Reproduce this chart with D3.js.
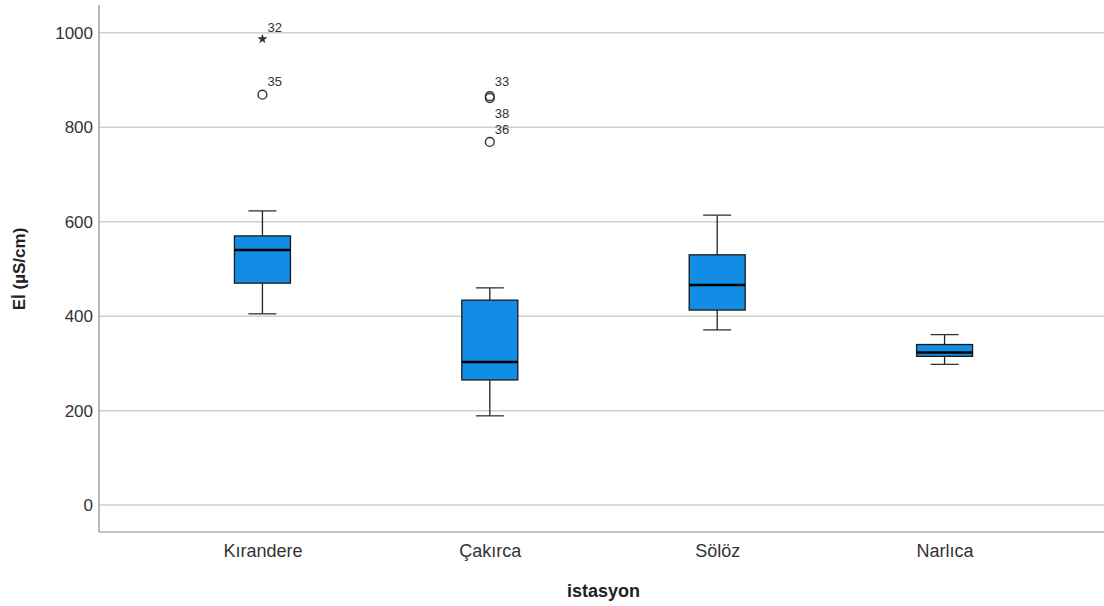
<!DOCTYPE html>
<html>
<head>
<meta charset="utf-8">
<script src="https://cdn.jsdelivr.net/npm/d3@7"></script>
<style>
  body { margin: 0; background: #fff; }
  text { font-family: "Liberation Sans", Arial, sans-serif; }
</style>
</head>
<body>
<div id="chart"></div>
<script>
/* DATA */
const stations = ["Kırandere", "Çakırca", "Sölöz", "Narlıca"];
const whiskerLow = [405, 189, 371, 298];
const q1 = [470, 265, 413, 315];
const median = [540, 303, 466, 323];
const q3 = [570, 434, 530, 340];
const whiskerHigh = [623, 460, 614, 361];
// outliers: station, value, case label, type, label offset
const outliers = [
  { st: "Kırandere", v: 987, id: "32", kind: "extreme", dy: -12 },
  { st: "Kırandere", v: 869, id: "35", kind: "outlier", dy: -13 },
  { st: "Çakırca", v: 866, id: "33", kind: "outlier", dy: -15 },
  { st: "Çakırca", v: 862, id: "38", kind: "outlier", dy: 15 },
  { st: "Çakırca", v: 769, id: "36", kind: "outlier", dy: -13 }
];
const yTicks = [0, 200, 400, 600, 800, 1000];

const width = 1104, height = 606;
const margin = { top: 5, right: 0, bottom: 74, left: 99 };

const svg = d3.select("#chart").append("svg")
  .attr("width", width)
  .attr("height", height);

const xScale = d3.scalePoint()
  .domain(stations)
  .range([margin.left + 2, width + 2])
  .padding(0.71);

const yScale = d3.scaleLinear()
  .domain([-57, 1059])
  .range([height - margin.bottom, margin.top]);

const boxW = 56, capW = 28;

// gridlines
svg.append("g")
  .selectAll("line")
  .data(yTicks)
  .join("line")
  .attr("x1", margin.left)
  .attr("x2", width)
  .attr("y1", d => yScale(d))
  .attr("y2", d => yScale(d))
  .attr("stroke", "#cfcfcf")
  .attr("stroke-width", 1.5);

// y axis
const yAxis = d3.axisLeft(yScale).tickValues(yTicks).tickFormat(d3.format("d")).tickSize(0).tickPadding(6);
svg.append("g")
  .attr("transform", `translate(${margin.left},0)`)
  .call(yAxis)
  .call(g => g.select(".domain").remove())
  .selectAll("text")
  .style("font-size", "17px")
  .attr("fill", "#333");

// x axis
const xAxis = d3.axisBottom(xScale).tickSize(0).tickPadding(12);
svg.append("g")
  .attr("transform", `translate(0,${height - margin.bottom})`)
  .call(xAxis)
  .call(g => g.select(".domain").remove())
  .selectAll("text")
  .style("font-size", "18px")
  .attr("fill", "#333");

// axis frame lines
svg.append("line")
  .attr("x1", margin.left).attr("x2", margin.left)
  .attr("y1", margin.top).attr("y2", height - margin.bottom)
  .attr("stroke", "#888").attr("stroke-width", 1.2);
svg.append("line")
  .attr("x1", margin.left).attr("x2", width)
  .attr("y1", height - margin.bottom).attr("y2", height - margin.bottom)
  .attr("stroke", "#888").attr("stroke-width", 1.2);

// boxes
const boxes = svg.append("g")
  .selectAll("g")
  .data(stations.map((s, i) => ({
    st: s, lo: whiskerLow[i], q1: q1[i], med: median[i], q3: q3[i], hi: whiskerHigh[i]
  })))
  .join("g");

boxes.append("line")
  .attr("x1", d => xScale(d.st)).attr("x2", d => xScale(d.st))
  .attr("y1", d => yScale(d.hi)).attr("y2", d => yScale(d.lo))
  .attr("stroke", "#222").attr("stroke-width", 1.3);

boxes.selectAll(".cap")
  .data(d => [{ st: d.st, v: d.hi }, { st: d.st, v: d.lo }])
  .join("line")
  .attr("class", "cap")
  .attr("x1", d => xScale(d.st) - capW / 2).attr("x2", d => xScale(d.st) + capW / 2)
  .attr("y1", d => yScale(d.v)).attr("y2", d => yScale(d.v))
  .attr("stroke", "#333").attr("stroke-width", 1.3);

boxes.append("rect")
  .attr("x", d => xScale(d.st) - boxW / 2)
  .attr("width", boxW)
  .attr("y", d => yScale(d.q3))
  .attr("height", d => yScale(d.q1) - yScale(d.q3))
  .attr("fill", "#118de6")
  .attr("stroke", "#1a1a1a")
  .attr("stroke-width", 1.3);

boxes.append("line")
  .attr("x1", d => xScale(d.st) - boxW / 2).attr("x2", d => xScale(d.st) + boxW / 2)
  .attr("y1", d => yScale(d.med)).attr("y2", d => yScale(d.med))
  .attr("stroke", "#000").attr("stroke-width", 2.5);

// outliers
const pts = svg.append("g")
  .selectAll("g")
  .data(outliers)
  .join("g")
  .attr("transform", d => `translate(${xScale(d.st)},${yScale(d.v)})`);

pts.filter(d => d.kind === "outlier")
  .append("circle")
  .attr("r", 4.4)
  .attr("fill", "none")
  .attr("stroke", "#333")
  .attr("stroke-width", 1.4);

pts.filter(d => d.kind === "extreme")
  .append("path")
  .attr("d", d3.symbol(d3.symbolStar, 32))
  .attr("fill", "#333");

pts.append("text")
  .attr("x", 5)
  .attr("y", d => d.dy)
  .attr("dy", "0.35em")
  .style("font-size", "13px")
  .attr("fill", "#333")
  .text(d => d.id);

// axis titles
svg.append("text")
  .attr("x", xScale("Çakırca") + (xScale("Sölöz") - xScale("Çakırca")) / 2)
  .attr("y", 597)
  .attr("text-anchor", "middle")
  .style("font-weight", "bold")
  .style("font-size", "18px")
  .attr("fill", "#222")
  .text("istasyon");

svg.append("text")
  .attr("transform", `translate(25,${yScale(500)}) rotate(-90)`)
  .attr("text-anchor", "middle")
  .style("font-weight", "bold")
  .style("font-size", "17px")
  .attr("fill", "#222")
  .text("Eİ (µS/cm)");
</script>
</body>
</html>
